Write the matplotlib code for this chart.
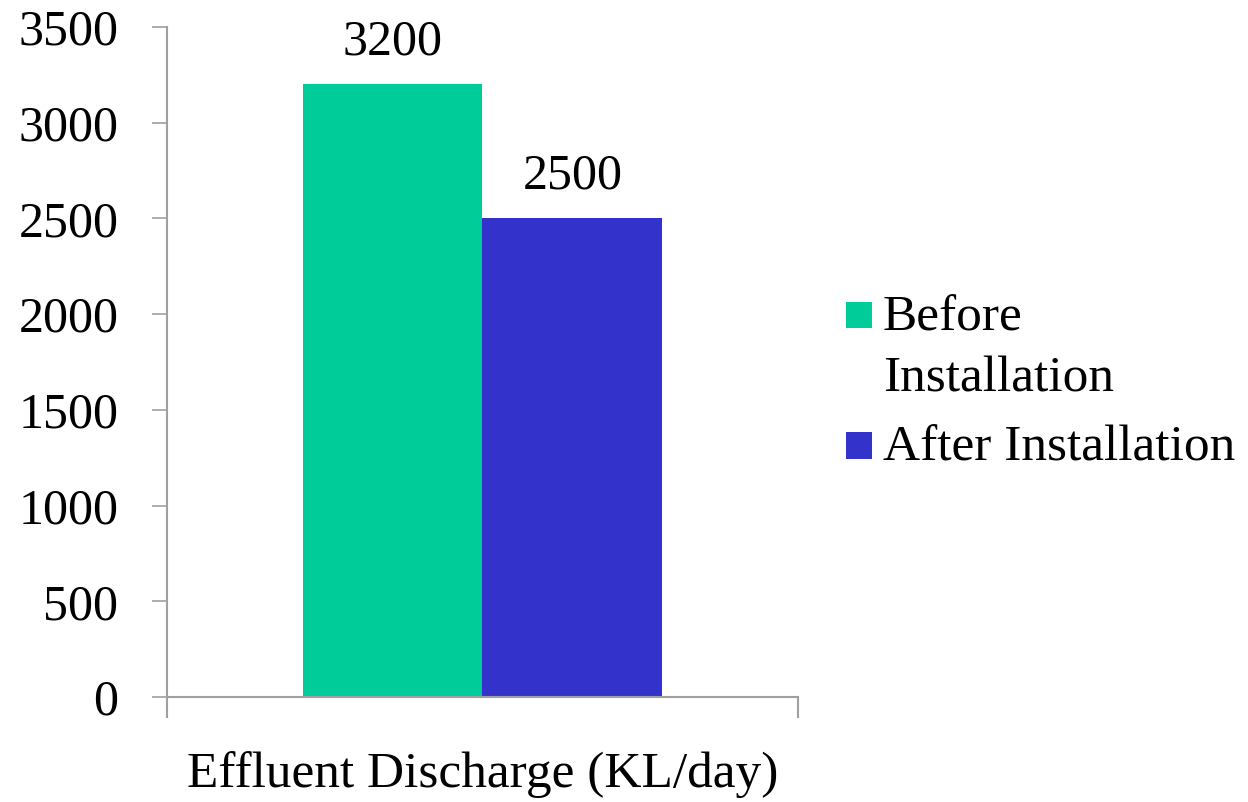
import matplotlib.pyplot as plt
from matplotlib.patches import Rectangle
from matplotlib.legend_handler import HandlerPatch

# данные с графика
categories = ['Effluent Discharge (KL/day)']
series = ['Before\nInstallation', 'After Installation']
values = [3200, 2500]
colors = ['#00CC99', '#3333CC']

plt.rcParams['font.family'] = ['Liberation Serif', 'DejaVu Serif']
fs = 36      # числа
fs_txt = 37  # подписи и легенда

fig = plt.figure(figsize=(12.48, 8.02), dpi=100)
ax = fig.add_axes([0.1338, 0.1309, 0.5056, 0.8354])

width = 0.285
offsets = [-width / 2, width / 2]
handles = []
for i, (name, val) in enumerate(zip(series, values)):
    bars = ax.bar(0 + offsets[i], val, width, color=colors[i], label=name)
    ax.bar_label(bars, labels=[f'{val}'], padding=14, fontsize=fs)
    handles.append(bars.patches[0])

ax.set_xlim(-0.5, 0.5)
ax.set_ylim(0, 3500)
ax.set_yticks(range(0, 3501, 500))
ax.tick_params(axis='y', labelsize=fs, length=11, width=1.2, color='#A0A0A0', pad=24)

# деления на границах категории, подпись по центру
ax.set_xticks([-0.5, 0.5])
ax.set_xticklabels(['', ''])
ax.tick_params(axis='x', which='major', length=15, width=1.5, color='#A0A0A0')
ax.set_xticks([0], minor=True)
ax.set_xticklabels(categories, minor=True, fontsize=fs_txt)
ax.tick_params(axis='x', which='minor', length=0, pad=39)

for s in ['top', 'right']:
    ax.spines[s].set_visible(False)
for s in ['left', 'bottom']:
    ax.spines[s].set_color('#A0A0A0')
    ax.spines[s].set_linewidth(1.5)


# квадратик легенды на уровне первой строки подписи
def square(legend, orig_handle, xdescent, ydescent, width, height, fontsize):
    return Rectangle((-xdescent, -ydescent), width, 0.52 * fontsize)


leg = ax.legend(handles, series, loc='center left', bbox_to_anchor=(1.076, 0.468),
                frameon=False, fontsize=fs_txt, handlelength=0.51, handleheight=0.62,
                handletextpad=0.21, labelspacing=0.45, borderpad=0, borderaxespad=0,
                handler_map={Rectangle: HandlerPatch(patch_func=square)})
for t in leg.get_texts():
    t.set_linespacing(1.4)
for col in leg._legend_handle_box.get_children():
    for row in col.get_children():
        row.align = 'top'

fig.savefig('out.png', dpi=100)
